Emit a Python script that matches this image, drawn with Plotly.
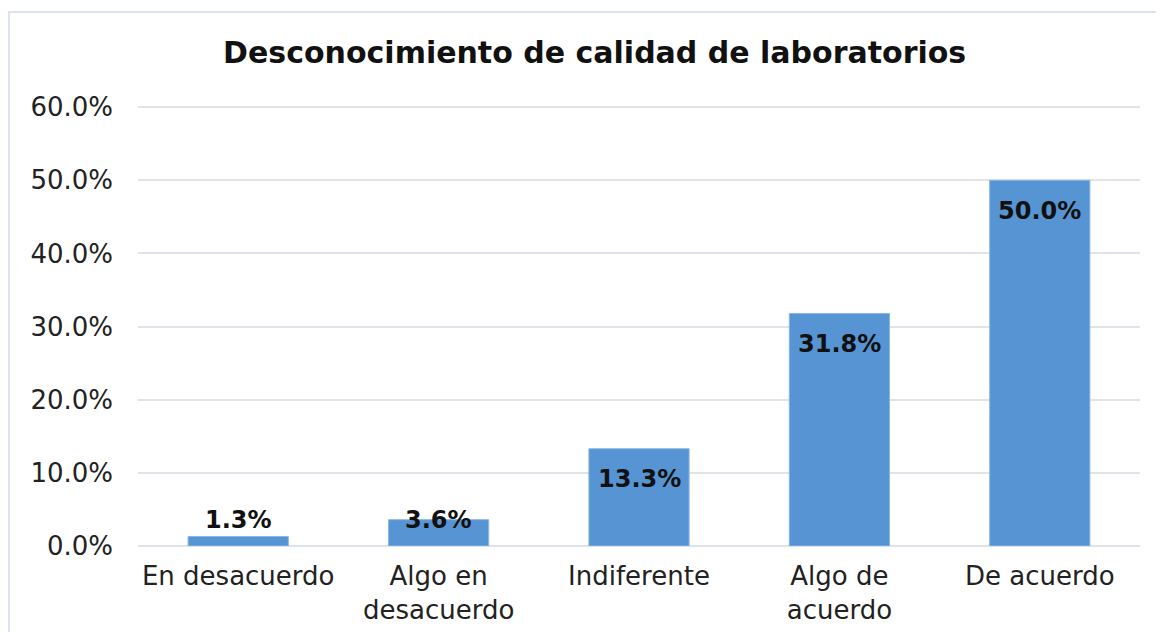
import plotly.graph_objects as go

categories = ["En desacuerdo", "Algo en<br>desacuerdo", "Indiferente", "Algo de<br>acuerdo", "De acuerdo"]
values = [1.3, 3.6, 13.3, 31.8, 50.0]
tick_vals = [0, 10, 20, 30, 40, 50, 60]
tick_text = ["0.0%", "10.0%", "20.0%", "30.0%", "40.0%", "50.0%", "60.0%"]
title_text = "Desconocimiento de calidad de laboratorios"

FONT = "DejaVu Sans, Arial"

fig = go.Figure()
fig.add_trace(go.Bar(
    x=categories, y=values, width=0.5,
    marker=dict(color="#5794d3", line=dict(color="#8ab6e3", width=1)),
    hoverinfo="skip",
))

for c, v in zip(categories, values):
    fig.add_annotation(
        x=c, y=max(v - 4.2, 3.6), text=f"<b>{v:.1f}%</b>",
        showarrow=False, yanchor="middle",
        font=dict(family=FONT, size=24, color="#111111"),
    )

# outer chart border
fig.add_shape(type="rect", xref="paper", yref="paper",
              x0=-0.1287, x1=1.05, y0=-0.3, y1=1.211,
              line=dict(color="#dde3ee", width=2), fillcolor="rgba(0,0,0,0)", layer="below")

fig.update_layout(
    width=1164, height=632,
    paper_bgcolor="white", plot_bgcolor="white",
    margin=dict(l=130, r=32, t=97, b=94),
    title=dict(text=f"<b>{title_text}</b>", x=0.504, xanchor="center",
               y=0.930, yanchor="middle",
               font=dict(family=FONT, size=30, color="#111111")),
    showlegend=False,
    xaxis=dict(showgrid=False, showline=False, ticks="", ticklabelstandoff=12,
               tickfont=dict(family=FONT, size=26, color="#222222")),
    yaxis=dict(range=[0, 60.3], tickvals=tick_vals, ticktext=tick_text,
               showgrid=True, gridcolor="#dfe3ea", gridwidth=2,
               zeroline=True, zerolinecolor="#dfe3ea", zerolinewidth=2,
               showline=False, ticks="", ticklabelstandoff=24,
               tickfont=dict(family=FONT, size=26, color="#222222")),
)

fig.write_html("out.html")
